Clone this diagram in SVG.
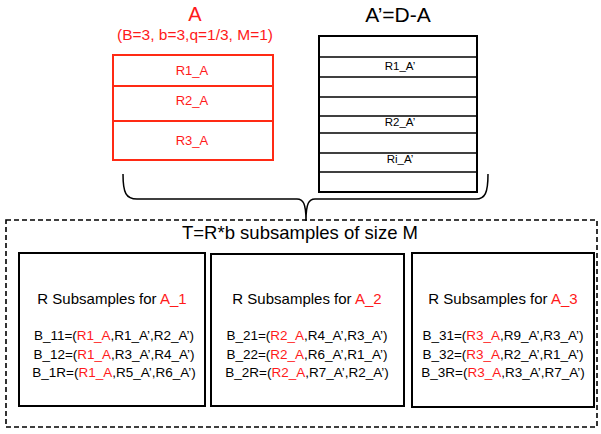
<svg xmlns="http://www.w3.org/2000/svg" width="601" height="434" viewBox="0 0 601 434">
<style>
text{font-family:"Liberation Sans",Arial,sans-serif;fill:#000}
.red{fill:#ff1a1a}
.rbox{fill:#fff;stroke:#ff2a14;stroke-width:2}
.rline{stroke:#ff2a14;stroke-width:2}
.kbox{fill:#fff;stroke:#000;stroke-width:2}
.kline{stroke:#000;stroke-width:1.6}
.row{font-size:13px;text-anchor:middle}
.rowp{font-size:11.5px;text-anchor:middle}
.ttl{font-size:15px;text-anchor:middle}
.bl{font-size:13.5px;text-anchor:middle}
</style>
<rect width="601" height="434" fill="#fff"/>
<g id="A">
<text x="195" y="21" class="red" font-size="20" text-anchor="middle">A</text>
<text x="195" y="40" class="red" font-size="15.5" text-anchor="middle">(B=3, b=3,q=1/3, M=1)</text>
<rect class="rbox" x="113" y="55" width="160" height="105"/>
<line class="rline" x1="113" y1="86" x2="273" y2="86"/>
<line class="rline" x1="113" y1="121" x2="273" y2="121"/>
<text x="192" y="75" class="row red">R1_A</text>
<text x="192" y="105" class="row red">R2_A</text>
<text x="192" y="145" class="row red">R3_A</text>
</g>
<g id="Aprime">
<text x="398" y="22" font-size="21" text-anchor="middle">A’=D-A</text>
<rect class="kbox" x="319" y="36" width="158" height="156"/>
<line class="kline" x1="319" y1="57" x2="477" y2="57"/>
<line class="kline" x1="319" y1="77" x2="477" y2="77"/>
<line class="kline" x1="319" y1="97" x2="477" y2="97"/>
<line class="kline" x1="319" y1="116" x2="477" y2="116"/>
<line class="kline" x1="319" y1="133" x2="477" y2="133"/>
<line class="kline" x1="319" y1="153" x2="477" y2="153"/>
<line class="kline" x1="319" y1="172" x2="477" y2="172"/>
<text x="400" y="70" class="rowp">R1_A’</text>
<text x="400" y="126" class="rowp">R2_A’</text>
<text x="400" y="163" class="rowp">Ri_A’</text>
</g>
<g id="connectors">
<path d="M123,174 C123,193 126,199 137,199 L297,199 C303,199 306,203 306,221 C306,203 309,199 315,199 L476,199 C485,199 488,193 488,174" fill="none" stroke="#000" stroke-width="1.5"/>
</g>
<g id="T">
<rect x="6" y="220" width="591" height="207" fill="none" stroke="#000" stroke-width="1.6" stroke-dasharray="5 3"/>
<text x="300" y="239" font-size="18.5" text-anchor="middle">T=R*b subsamples of size M</text>
</g>
<g id="S1">
<rect class="kbox" x="19" y="253" width="186" height="153"/>
<text x="112" y="304" class="ttl">R Subsamples for <tspan class="red">A_1</tspan></text>
<text x="114" y="340" class="bl">B_11=(<tspan class="red">R1_A</tspan>,R1_A’,R2_A’)</text>
<text x="114" y="359" class="bl">B_12=(<tspan class="red">R1_A</tspan>,R3_A’,R4_A’)</text>
<text x="114" y="377" class="bl">B_1R=(<tspan class="red">R1_A</tspan>,R5_A’,R6_A’)</text>
</g>
<g id="S2">
<rect class="kbox" x="211" y="254" width="193" height="152"/>
<text x="307" y="304" class="ttl">R Subsamples for <tspan class="red">A_2</tspan></text>
<text x="307" y="340" class="bl">B_21=(<tspan class="red">R2_A</tspan>,R4_A’,R3_A’)</text>
<text x="307" y="359" class="bl">B_22=(<tspan class="red">R2_A</tspan>,R6_A’,R1_A’)</text>
<text x="307" y="377" class="bl">B_2R=(<tspan class="red">R2_A</tspan>,R7_A’,R2_A’)</text>
</g>
<g id="S3">
<rect class="kbox" x="412" y="253" width="182" height="154"/>
<text x="503" y="304" class="ttl">R Subsamples for <tspan class="red">A_3</tspan></text>
<text x="503" y="340" class="bl">B_31=(<tspan class="red">R3_A</tspan>,R9_A’,R3_A’)</text>
<text x="503" y="359" class="bl">B_32=(<tspan class="red">R3_A</tspan>,R2_A’,R1_A’)</text>
<text x="503" y="377" class="bl">B_3R=(<tspan class="red">R3_A</tspan>,R3_A’,R7_A’)</text>
</g>
</svg>
